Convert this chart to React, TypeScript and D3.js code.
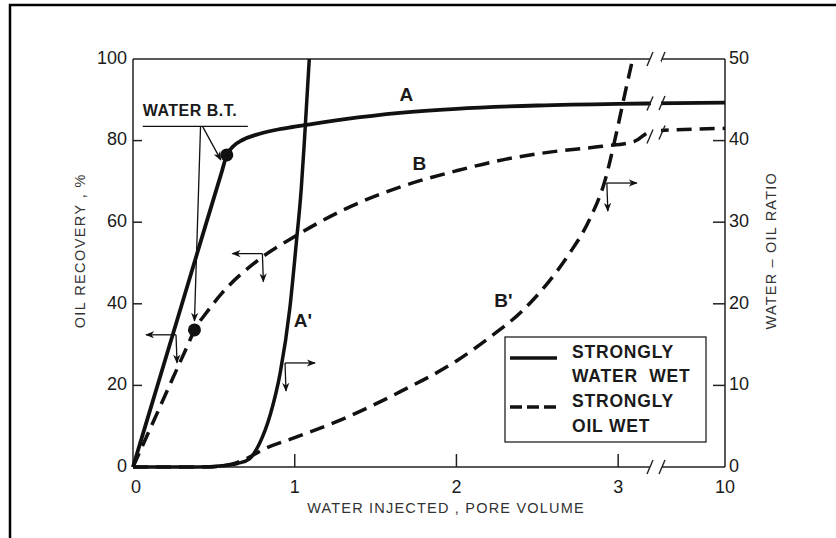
import React from 'react';
import * as d3 from 'd3';

// ---- data ----
const xTickValues = [0, 1, 2, 3, 10];
const leftTickValues = [0, 20, 40, 60, 80, 100];
const rightTickValues = [0, 10, 20, 30, 40, 50];

// Curve A: strongly water wet, oil recovery (%)
const aX = [0, 0.15, 0.3, 0.45, 0.55, 0.58, 0.62, 0.68, 0.76, 0.88, 1.0, 1.3, 1.65, 2.0, 2.5, 3.0, 3.2, 10];
const aY = [0, 19.8, 39.6, 59.4, 72.5, 76.5, 78.6, 80.2, 81.4, 82.6, 83.4, 85.2, 86.8, 87.8, 88.6, 89.0, 89.1, 89.3];

// Curve B: strongly oil wet, oil recovery (%)
const bX = [0, 0.12, 0.25, 0.35, 0.38, 0.45, 0.55, 0.77, 1.0, 1.3, 1.65, 2.0, 2.3, 2.6, 2.9, 3.1, 3.3, 10];
const bY = [0, 10.6, 22.1, 30.9, 33.6, 37.6, 42.6, 50.6, 56.5, 63, 68.6, 72.6, 75.4, 77.3, 78.6, 79.8, 82.3, 83];

// Curve A': strongly water wet, water-oil ratio
const apX = [0, 0.4, 0.55, 0.65, 0.72, 0.78, 0.85, 0.91, 0.97, 1.01, 1.04, 1.06, 1.09];
const apY = [0, 0, 0.15, 0.45, 1.0, 2.8, 6.5, 11.5, 19.5, 27.5, 34, 40, 50];

// Curve B': strongly oil wet, water-oil ratio
const bpX = [0, 0.45, 0.6, 0.7, 0.8, 1.0, 1.3, 1.65, 2.0, 2.2, 2.4, 2.55, 2.7, 2.82, 2.92, 2.99, 3.05, 3.09];
const bpY = [0, 0, 0.3, 1.0, 2.1, 3.6, 5.9, 9.2, 13, 15.8, 19, 22.2, 26.2, 30.2, 35.2, 41, 46.5, 50];

// breakthrough points (x, oil recovery %)
const btX = [0.58, 0.38];
const btY = [76.5, 33.6];

// curve labels (x, left-axis units)
const curveLabels = ['A', 'B', "A'", "B'"];
const labelX = [1.69, 1.77, 1.05, 2.29];
const labelY = [91, 74, 35.5, 40.5];

// axis-indicator arrows anchors (x, left-axis units) and direction
const arrowX = [0.266, 0.80, 0.94, 2.93];
const arrowY = [32.4, 52.3, 25.5, 69.6];
const arrowDir = [-1, -1, 1, 1];

const legendLabels = ['STRONGLY', 'WATER  WET', 'STRONGLY', 'OIL WET'];

export default function App() {
  const x = d3.scaleLinear().domain([0, 3.2, 10]).range([133, 650.5, 725]);
  const yL = d3.scaleLinear().domain([0, 100]).range([467, 59]);
  const yR = d3.scaleLinear().domain([0, 50]).range([467, 59]);

  const lineL = d3.line<[number, number]>().x(d => x(d[0])).y(d => yL(d[1])).curve(d3.curveMonotoneX);
  const lineR = d3.line<[number, number]>().x(d => x(d[0])).y(d => yR(d[1])).curve(d3.curveMonotoneX);

  const zip = (xs: number[], ys: number[]) => xs.map((v, i) => [v, ys[i]] as [number, number]);

  const pathA = lineL(zip(aX, aY)) || '';
  const pathB = lineL(zip(bX, bY)) || '';
  const pathAp = lineR(zip(apX, apY)) || '';
  const pathBp = lineR(zip(bpX, bpY)) || '';

  const ink = '#111';
  const axisInk = '#222';
  const font = '"Liberation Sans", Arial, Helvetica, sans-serif';
  const breakL = 650;
  const breakR = 662;
  const yTop = yL(100);
  const yBot = yL(0);

  const slash = (cx: number, cy: number, key: string) => (
    <line key={key} x1={cx - 3} y1={cy + 7} x2={cx + 3} y2={cy - 7} stroke={axisInk} strokeWidth={1.4} />
  );

  // WATER B.T. annotation geometry
  const btTextX = x(0.06);
  const btLineY = yL(83.5);
  const btJoinX = x(0.43);

  return (
    <svg width={836} height={538} style={{ position: 'absolute', left: 0, top: 0, background: '#fff' }}>
      <defs>
        <marker id="ah" viewBox="0 0 10 10" refX="9" refY="5" markerWidth="7" markerHeight="7" orient="auto-start-reverse">
          <path d="M0,1 L10,5 L0,9 L3,5 Z" fill={ink} />
        </marker>
      </defs>
      {/* outer frame */}
      <path d="M10,538 L10,5 L836,5" fill="none" stroke="#000" strokeWidth={2.5} />

      {/* axes */}
      <line x1={x(0)} y1={yTop} x2={x(0)} y2={yBot} stroke={axisInk} strokeWidth={1.5} />
      <line x1={x(10)} y1={yTop} x2={x(10)} y2={yBot} stroke={axisInk} strokeWidth={1.5} />
      <line x1={x(0)} y1={yTop} x2={breakL} y2={yTop} stroke={axisInk} strokeWidth={1.5} />
      <line x1={breakR} y1={yTop} x2={x(10)} y2={yTop} stroke={axisInk} strokeWidth={1.5} />
      <line x1={x(0)} y1={yBot} x2={breakL} y2={yBot} stroke={axisInk} strokeWidth={1.5} />
      <line x1={breakR} y1={yBot} x2={x(10)} y2={yBot} stroke={axisInk} strokeWidth={1.5} />
      {slash(breakL, yTop, 'st1')}
      {slash(breakR, yTop, 'st2')}
      {slash(breakL, yBot, 'sb1')}
      {slash(breakR, yBot, 'sb2')}

      {/* left ticks */}
      {leftTickValues.map(v => (
        <g key={'l' + v}>
          {v > 0 && v < 100 && <line x1={x(0)} x2={x(0) + 9} y1={yL(v)} y2={yL(v)} stroke={axisInk} strokeWidth={1.5} />}
          <text x={x(0) - 6} y={yL(v)} textAnchor="end" dominantBaseline="middle" fontFamily={font} fontSize={18} fill="#1a1a1a">{v}</text>
        </g>
      ))}
      {/* right ticks */}
      {rightTickValues.map(v => (
        <g key={'r' + v}>
          {v > 0 && v < 50 && <line x1={x(10) - 12} x2={x(10)} y1={yR(v)} y2={yR(v)} stroke={axisInk} strokeWidth={1.5} />}
          <text x={x(10) + 4} y={yR(v)} textAnchor="start" dominantBaseline="middle" fontFamily={font} fontSize={18} fill="#1a1a1a">{v}</text>
        </g>
      ))}
      {/* bottom ticks */}
      {xTickValues.map(v => (
        <g key={'x' + v}>
          {v > 0 && v < 10 && <line x1={x(v)} x2={x(v)} y1={yBot} y2={yBot - 13} stroke={axisInk} strokeWidth={1.5} />}
          <text x={x(v) + (v === 0 ? 3 : 0)} y={yBot + 21} textAnchor="middle" dominantBaseline="middle" fontFamily={font} fontSize={18} fill="#1a1a1a">{v}</text>
        </g>
      ))}

      {/* axis titles */}
      <text x={446} y={509} textAnchor="middle" dominantBaseline="middle" fontFamily={font} fontSize={14.5} letterSpacing={1.2} fill="#333">WATER INJECTED , PORE VOLUME</text>
      <text transform={`translate(81,${yL(53)}) rotate(-90)`} textAnchor="middle" dominantBaseline="middle" fontFamily={font} fontSize={14.5} letterSpacing={1.4} fill="#333">OIL RECOVERY , %</text>
      <text transform={`translate(772,${yR(26.5)}) rotate(-90)`} textAnchor="middle" dominantBaseline="middle" fontFamily={font} fontSize={14.5} letterSpacing={1.2} fill="#333">WATER – OIL RATIO</text>

      {/* curves */}
      <path d={pathA} fill="none" stroke={ink} strokeWidth={3.8} strokeLinejoin="round" />
      <path d={pathAp} fill="none" stroke={ink} strokeWidth={3.5} strokeLinejoin="round" />
      <path d={pathB} fill="none" stroke={ink} strokeWidth={3.5} strokeDasharray="15 8" />
      <path d={pathBp} fill="none" stroke={ink} strokeWidth={3.5} strokeDasharray="15 8" />

      {/* curve breaks */}
      <rect x={breakL + 1} y={yTop + 2} width={breakR - breakL - 2} height={yL(70) - yTop} fill="#fff" />
      {slash(breakL, yL(89.1), 'ca1')}
      {slash(breakR, yL(89.2), 'ca2')}
      {slash(breakL, yL(81), 'cb1')}
      {slash(breakR, yL(82), 'cb2')}

      {/* breakthrough dots */}
      {btX.map((v, i) => (
        <circle key={'bt' + i} cx={x(v)} cy={yL(btY[i])} r={6.5} fill={ink} />
      ))}

      {/* WATER B.T. annotation */}
      <text x={btTextX} y={btLineY - 10} fontFamily={font} fontSize={16} fontWeight="bold" fill="#1a1a1a" letterSpacing={0.5}>WATER B.T.</text>
      <line x1={btTextX} x2={x(0.71)} y1={btLineY} y2={btLineY} stroke={ink} strokeWidth={1.3} />
      <line x1={btJoinX} y1={btLineY} x2={x(btX[0]) - 6} y2={yL(btY[0]) + 5} stroke={ink} strokeWidth={1.3} markerEnd="url(#ah)" />
      <line x1={btJoinX - 2} y1={btLineY} x2={x(btX[1])} y2={yL(btY[1]) - 9} stroke={ink} strokeWidth={1.3} markerEnd="url(#ah)" />

      {/* axis indicator arrows */}
      {arrowX.map((v, i) => {
        const px = x(v);
        const py = yL(arrowY[i]);
        return (
          <g key={'ar' + i}>
            <line x1={px} y1={py} x2={px + arrowDir[i] * 30} y2={py} stroke={ink} strokeWidth={1.3} markerEnd="url(#ah)" />
            <line x1={px} y1={py} x2={px + 1} y2={py + 28} stroke={ink} strokeWidth={1.3} markerEnd="url(#ah)" />
          </g>
        );
      })}

      {/* curve labels */}
      {curveLabels.map((t, i) => (
        <text key={'cl' + i} x={x(labelX[i])} y={yL(labelY[i])} textAnchor="middle" dominantBaseline="middle" fontFamily={font} fontSize={19} fontWeight="bold" fill="#1a1a1a">{t}</text>
      ))}

      {/* legend */}
      <rect x={505} y={337} width={201} height={105} fill="#fff" stroke={axisInk} strokeWidth={1.3} />
      <line x1={510} x2={557} y1={358} y2={358} stroke={ink} strokeWidth={3.5} />
      <line x1={510} x2={560} y1={407} y2={407} stroke={ink} strokeWidth={3.5} strokeDasharray="12 5" />
      {legendLabels.map((t, i) => (
        <text key={'lg' + i} x={572} y={353 + i * 24.7} dominantBaseline="middle" fontFamily={font} fontSize={17.5} fontWeight="bold" fill="#1a1a1a" letterSpacing={0.8} style={{ whiteSpace: 'pre' }}>{t}</text>
      ))}
    </svg>
  );
}
